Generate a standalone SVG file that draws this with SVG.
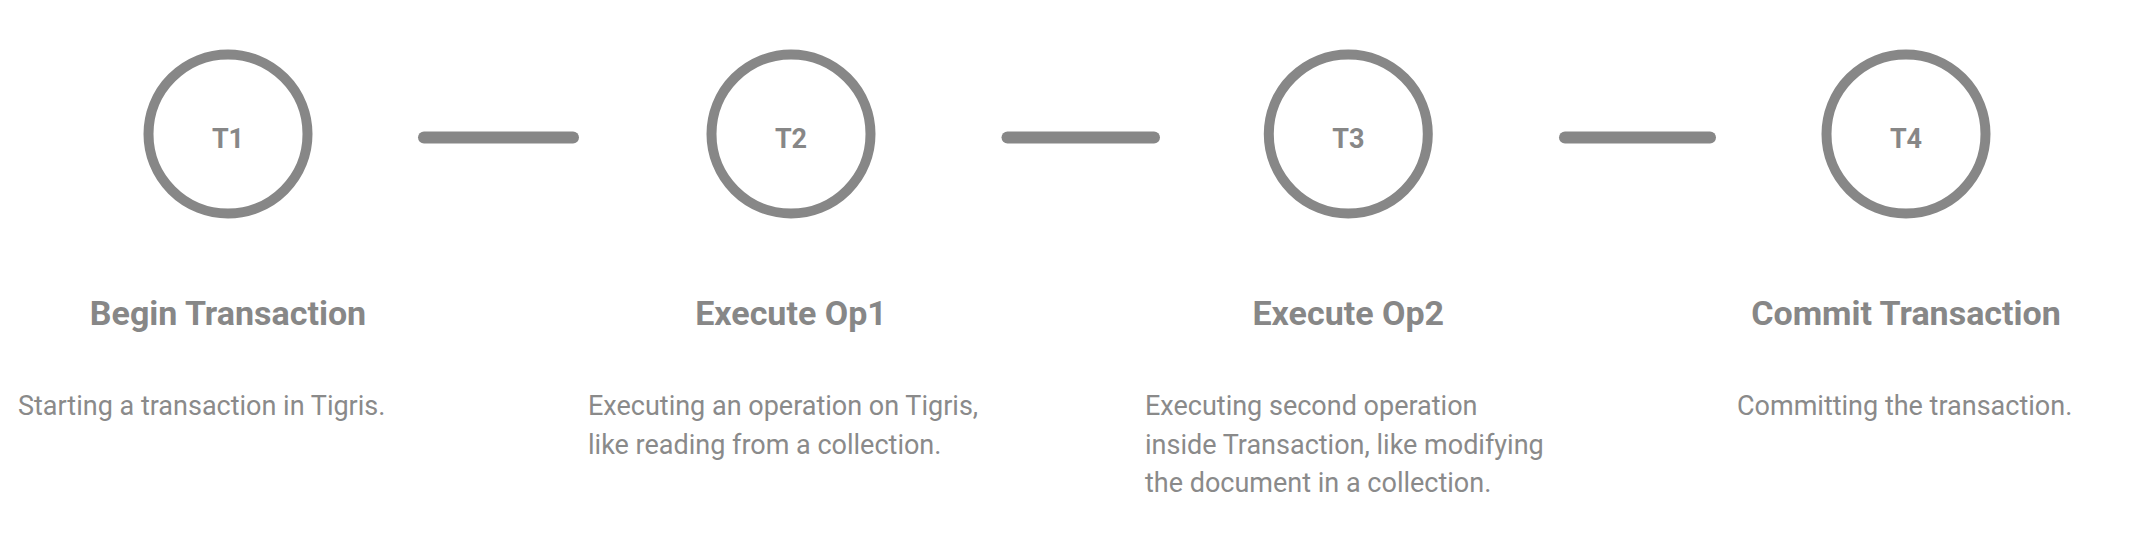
<svg xmlns="http://www.w3.org/2000/svg" width="2146" height="548" viewBox="0 0 2146 548">
<style>
.ring{fill:none;stroke:#878787;stroke-width:10}
.lbl{font-family:Roboto,"Liberation Sans",sans-serif;font-weight:700;font-size:27px;fill:#878787;text-anchor:middle}
.ttl{font-family:Roboto,"Liberation Sans",sans-serif;font-weight:700;font-size:34px;fill:#878787;text-anchor:middle}
.dsc{font-family:Roboto,"Liberation Sans",sans-serif;font-weight:400;font-size:27px;fill:#8a8a8a}
.con{stroke:#878787;stroke-width:12;stroke-linecap:round;fill:none}
</style>
<rect width="2146" height="548" fill="#ffffff"/>
<g id="connectors">
<line class="con" x1="424" y1="137.5" x2="573" y2="137.5"/>
<line class="con" x1="1007.5" y1="137.5" x2="1154" y2="137.5"/>
<line class="con" x1="1565" y1="137.5" x2="1710" y2="137.5"/>
</g>
<g id="t1">
<circle class="ring" cx="228" cy="134" r="79.5"/>
<text class="lbl" x="228" y="148">T1</text>
<text class="ttl" x="228" y="325">Begin Transaction</text>
<text class="dsc" x="18" y="415">Starting a transaction in Tigris.</text>
</g>
<g id="t2">
<circle class="ring" cx="791" cy="134" r="79.5"/>
<text class="lbl" x="791" y="148">T2</text>
<text class="ttl" x="791" y="325">Execute Op1</text>
<text class="dsc" x="588" y="415">Executing an operation on Tigris,</text>
<text class="dsc" x="588" y="453.5">like reading from a collection.</text>
</g>
<g id="t3">
<circle class="ring" cx="1348.3" cy="134" r="79.5"/>
<text class="lbl" x="1348.3" y="148">T3</text>
<text class="ttl" x="1348.3" y="325">Execute Op2</text>
<text class="dsc" x="1145" y="415">Executing second operation</text>
<text class="dsc" x="1145" y="453.5">inside Transaction, like modifying</text>
<text class="dsc" x="1145" y="492">the document in a collection.</text>
</g>
<g id="t4">
<circle class="ring" cx="1906" cy="134" r="79.5"/>
<text class="lbl" x="1906" y="148">T4</text>
<text class="ttl" x="1906" y="325">Commit Transaction</text>
<text class="dsc" x="1737" y="415">Committing the transaction.</text>
</g>
</svg>
